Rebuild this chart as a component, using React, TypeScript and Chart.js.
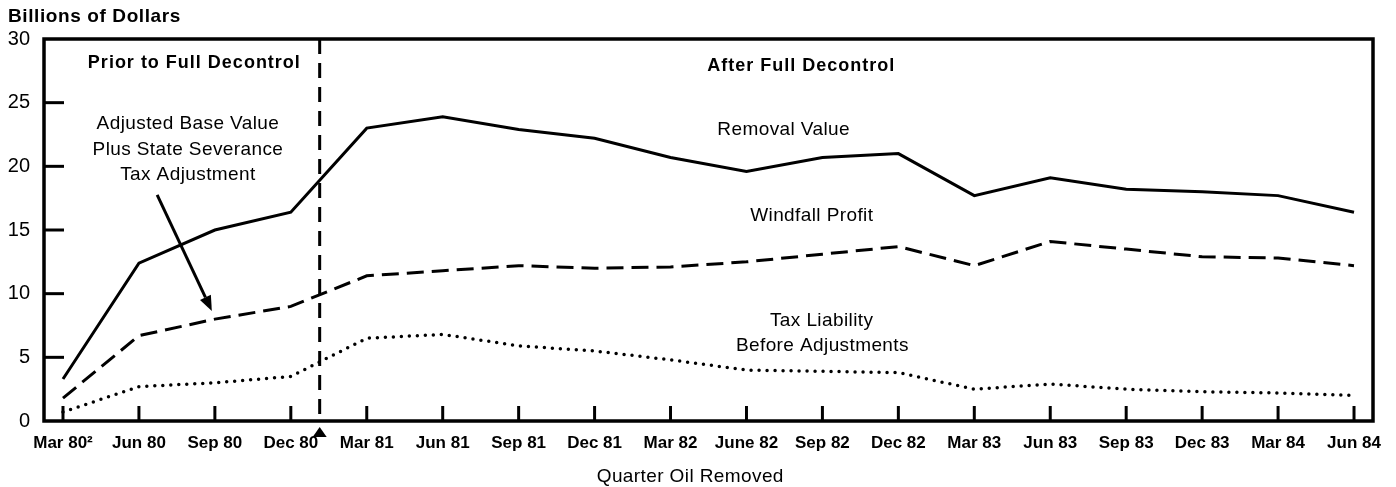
import { useEffect, useRef } from "react";
import { Chart, registerables } from "chart.js";

Chart.register(...registerables);

const quarters = [
  "Mar 80\u00B2", "Jun 80", "Sep 80", "Dec 80", "Mar 81", "Jun 81", "Sep 81", "Dec 81", "Mar 82",
  "June 82", "Sep 82", "Dec 82", "Mar 83", "Jun 83", "Sep 83", "Dec 83", "Mar 84", "Jun 84",
];
const removalValue = [3.3, 12.4, 15.0, 16.4, 23.0, 23.9, 22.9, 22.2, 20.7, 19.6, 20.7, 21.0, 17.7, 19.1, 18.2, 18.0, 17.7, 16.4];
const windfallProfit = [1.8, 6.7, 8.0, 9.0, 11.4, 11.8, 12.2, 12.0, 12.1, 12.5, 13.1, 13.7, 12.2, 14.1, 13.5, 12.9, 12.8, 12.2];
const taxLiability = [0.7, 2.7, 3.0, 3.5, 6.5, 6.8, 5.9, 5.5, 4.8, 4.0, 3.9, 3.8, 2.5, 2.9, 2.5, 2.3, 2.2, 2.0];
const yTickValues = [0, 5, 10, 15, 20, 25, 30];
const decontrolAt = 3.38;

const FONT = '"Liberation Sans", Arial, Helvetica, sans-serif';
const W = 1396;
const H = 487;

const toPoints = (arr: number[]) => arr.map((v, i) => ({ x: i, y: v }));

const decorPlugin = {
  id: "decor",
  afterDraw(chart: any) {
    const { ctx, chartArea } = chart;
    const xs = chart.scales.x;
    const ys = chart.scales.y;
    const { left, right, top, bottom } = chartArea;
    ctx.save();
    ctx.strokeStyle = "#000";
    ctx.fillStyle = "#000";

    // frame
    ctx.lineWidth = 3.5;
    ctx.setLineDash([]);
    ctx.strokeRect(left, top, right - left, bottom - top);

    // inward x ticks
    ctx.lineWidth = 3;
    quarters.forEach((_, i) => {
      const px = xs.getPixelForValue(i);
      ctx.beginPath();
      ctx.moveTo(px, bottom);
      ctx.lineTo(px, bottom - 15);
      ctx.stroke();
    });
    // inward y ticks
    yTickValues.forEach((v) => {
      if (v === 0 || v === 30) return;
      const py = ys.getPixelForValue(v);
      ctx.beginPath();
      ctx.moveTo(left, py);
      ctx.lineTo(left + 20, py);
      ctx.stroke();
    });

    // decontrol divider
    const dx = xs.getPixelForValue(decontrolAt);
    ctx.setLineDash([15, 9]);
    ctx.lineWidth = 3;
    ctx.beginPath();
    ctx.moveTo(dx, top);
    ctx.lineTo(dx, bottom);
    ctx.stroke();
    ctx.setLineDash([]);

    // triangle marker
    ctx.beginPath();
    ctx.moveTo(dx, bottom + 6);
    ctx.lineTo(dx - 7, bottom + 16);
    ctx.lineTo(dx + 7, bottom + 16);
    ctx.closePath();
    ctx.fill();

    // arrow
    const ax = xs.getPixelForValue(1.24);
    const ay = ys.getPixelForValue(17.75);
    const bx = xs.getPixelForValue(1.96);
    const by = ys.getPixelForValue(8.64);
    const ang = Math.atan2(by - ay, bx - ax);
    const headLen = 15;
    const headW = 6;
    const hx = bx - headLen * Math.cos(ang);
    const hy = by - headLen * Math.sin(ang);
    ctx.lineWidth = 3;
    ctx.beginPath();
    ctx.moveTo(ax, ay);
    ctx.lineTo(hx, hy);
    ctx.stroke();
    ctx.beginPath();
    ctx.moveTo(bx, by);
    ctx.lineTo(hx + headW * Math.sin(ang), hy - headW * Math.cos(ang));
    ctx.lineTo(hx - headW * Math.sin(ang), hy + headW * Math.cos(ang));
    ctx.closePath();
    ctx.fill();

    // texts
    ctx.textBaseline = "middle";
    const text = (s: string, x: number, y: number, bold: boolean, size: number, align: CanvasTextAlign = "center", spacing = "0px") => {
      ctx.font = `${bold ? "bold " : ""}${size}px ${FONT}`;
      (ctx as any).letterSpacing = spacing;
      ctx.textAlign = align;
      ctx.fillText(s, x, y);
    };
    text("Billions of Dollars", 8, 17, true, 19, "left", "0.6px");
    text("Prior to Full Decontrol", xs.getPixelForValue(1.73), ys.getPixelForValue(28.1), true, 18, "center", "1px");
    text("After Full Decontrol", xs.getPixelForValue(9.72), ys.getPixelForValue(27.85), true, 18, "center", "1px");
    const adjX = xs.getPixelForValue(1.645);
    text("Adjusted Base Value", adjX, ys.getPixelForValue(23.33), false, 19, "center", "0.4px");
    text("Plus State Severance", adjX, ys.getPixelForValue(21.33), false, 19, "center", "0.4px");
    text("Tax Adjustment", adjX, ys.getPixelForValue(19.36), false, 19, "center", "0.4px");
    text("Removal Value", xs.getPixelForValue(9.49), ys.getPixelForValue(22.9), false, 19, "center", "0.4px");
    text("Windfall Profit", xs.getPixelForValue(9.86), ys.getPixelForValue(16.1), false, 19, "center", "0.4px");
    text("Tax Liability", xs.getPixelForValue(9.99), ys.getPixelForValue(7.85), false, 19, "center", "0.4px");
    text("Before Adjustments", xs.getPixelForValue(10.0), ys.getPixelForValue(5.9), false, 19, "center", "0.4px");
    text("Quarter Oil Removed", xs.getPixelForValue(8.26), bottom + 56, false, 19, "center", "0.4px");
    (ctx as any).letterSpacing = "0px";
    ctx.restore();
  },
};

export default function App() {
  const ref = useRef<HTMLCanvasElement | null>(null);
  useEffect(() => {
    document.body.style.margin = "0";
    document.body.style.overflow = "hidden";
    const canvas = ref.current;
    if (!canvas) return;
    const chart = new Chart(canvas, {
      type: "line",
      data: {
        datasets: [
          {
            label: "Removal Value",
            data: toPoints(removalValue),
            borderColor: "#000",
            borderWidth: 3,
            pointRadius: 0,
            tension: 0,
          },
          {
            label: "Windfall Profit",
            data: toPoints(windfallProfit),
            borderColor: "#000",
            borderWidth: 3,
            borderDash: [17, 8],
            pointRadius: 0,
            tension: 0,
          },
          {
            label: "Tax Liability Before Adjustments",
            data: toPoints(taxLiability),
            borderColor: "#000",
            borderWidth: 3.5,
            borderDash: [0, 8],
            borderCapStyle: "round",
            pointRadius: 0,
            tension: 0,
          },
        ],
      },
      options: {
        responsive: false,
        animation: false,
        layout: { padding: { top: 39, right: 23, left: 0, bottom: 0 } },
        plugins: { legend: { display: false }, tooltip: { enabled: false }, title: { display: false } },
        scales: {
          x: {
            type: "linear",
            min: -0.25,
            max: 17.25,
            afterBuildTicks: (s: any) => {
              s.ticks = quarters.map((_, i) => ({ value: i }));
            },
            afterFit: (s: any) => {
              s.height = H - 421;
            },
            ticks: {
              autoSkip: false,
              maxRotation: 0,
              minRotation: 0,
              padding: 12,
              color: "#000",
              font: { family: FONT, size: 17, weight: "bold" },
              callback: (v: any) => quarters[Math.round(Number(v))] ?? "",
            },
            grid: { display: false, drawTicks: false },
            border: { display: false },
          },
          y: {
            type: "linear",
            min: 0,
            max: 30,
            afterBuildTicks: (s: any) => {
              s.ticks = yTickValues.map((v) => ({ value: v }));
            },
            afterFit: (s: any) => {
              s.width = 44;
            },
            ticks: {
              padding: 14,
              color: "#000",
              font: { family: FONT, size: 20 },
            },
            grid: { display: false, drawTicks: false },
            border: { display: false },
          },
        },
      },
      plugins: [decorPlugin],
    } as any);
    return () => chart.destroy();
  }, []);
  return <canvas ref={ref} width={W} height={H} style={{ display: "block" }} />;
}
